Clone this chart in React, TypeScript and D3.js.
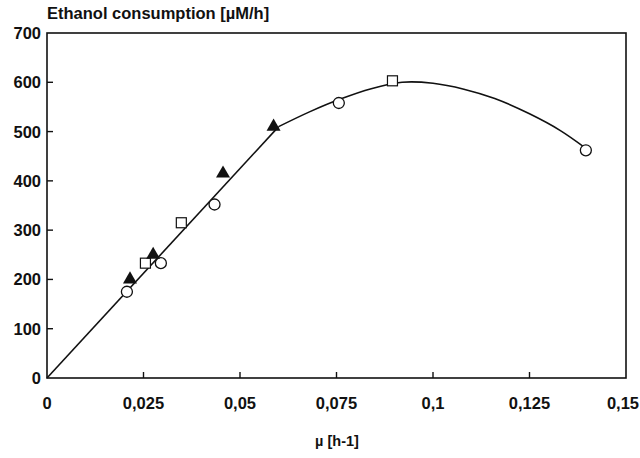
import React, { useEffect, useRef } from 'react';
import * as d3 from 'd3';

const triangles = [[0.0215, 200], [0.0275, 250], [0.0456, 415], [0.0587, 510]];
const circles = [[0.0207, 175], [0.0295, 233], [0.0434, 352], [0.0756, 558], [0.1396, 462]];
const squares = [[0.0255, 233], [0.0348, 315], [0.0895, 603]];

// fitted curve drawn through the data
const fitLine = [[0, 0], [0.06, 510]];
const fitCurve = [[0.06, 510], [0.068, 540], [0.076, 566], [0.084, 587], [0.092, 600], [0.1, 598],
    [0.108, 586], [0.116, 567], [0.125, 536], [0.133, 502], [0.1396, 466]];

const xTicks = [0, 0.025, 0.05, 0.075, 0.1, 0.125, 0.15];
const xTickLabels = ['0', '0,025', '0,05', '0,075', '0,1', '0,125', '0,15'];
const yTicks = [0, 100, 200, 300, 400, 500, 600, 700];

const App = () => {
    const ref = useRef(null);

    useEffect(() => {
        const svg = d3.select(ref.current);
        svg.selectAll('*').remove();

        const left = 47, right = 626, top = 33, bottom = 378;
        const font = '"Liberation Sans", Arial, sans-serif';

        const x = d3.scaleLinear().domain([0, 0.15]).range([left, right]);
        const y = d3.scaleLinear().domain([0, 700]).range([bottom, top]);

        // frame
        svg.append('rect')
            .attr('x', left).attr('y', top)
            .attr('width', right - left).attr('height', bottom - top)
            .attr('fill', 'none').attr('stroke', '#111').attr('stroke-width', 1.6);

        // x ticks (inward)
        svg.selectAll('.xt').data(xTicks.slice(1, -1)).enter().append('line')
            .attr('x1', d => x(d)).attr('x2', d => x(d))
            .attr('y1', bottom).attr('y2', bottom - 6)
            .attr('stroke', '#111').attr('stroke-width', 1.4);

        // last label would spill over the edge, so keep it inside
        svg.selectAll('.xl').data(xTicks).enter().append('text')
            .attr('x', (d, i) => i === xTicks.length - 1 ? 639 : x(d)).attr('y', 409)
            .attr('text-anchor', (d, i) => i === xTicks.length - 1 ? 'end' : 'middle')
            .attr('font-family', font).attr('font-weight', 'bold').attr('font-size', 16.5)
            .attr('fill', '#111')
            .text((d, i) => xTickLabels[i]);

        // y ticks (inward)
        svg.selectAll('.yt').data(yTicks.slice(1, -1)).enter().append('line')
            .attr('x1', left).attr('x2', left + 6)
            .attr('y1', d => y(d)).attr('y2', d => y(d))
            .attr('stroke', '#111').attr('stroke-width', 1.4);

        svg.selectAll('.yl').data(yTicks).enter().append('text')
            .attr('x', 41).attr('y', d => y(d))
            .attr('dy', '0.36em')
            .attr('text-anchor', 'end')
            .attr('font-family', font).attr('font-weight', 'bold').attr('font-size', 16.5)
            .attr('fill', '#111')
            .text(d => d);

        svg.append('text')
            .attr('x', 47).attr('y', 19)
            .attr('font-family', font).attr('font-weight', 'bold').attr('font-size', 16.5)
            .attr('fill', '#111')
            .text('Ethanol consumption [µM/h]');

        svg.append('text')
            .attr('x', 337).attr('y', 446)
            .attr('text-anchor', 'middle')
            .attr('font-family', font).attr('font-weight', 'bold').attr('font-size', 14.5)
            .attr('fill', '#111')
            .text('µ [h-1]');

        // fit
        const straight = d3.line().x(d => x(d[0])).y(d => y(d[1]));
        const smooth = d3.line().x(d => x(d[0])).y(d => y(d[1])).curve(d3.curveCatmullRom);
        svg.append('path').attr('d', straight(fitLine))
            .attr('fill', 'none').attr('stroke', '#111').attr('stroke-width', 1.6);
        svg.append('path').attr('d', smooth(fitCurve))
            .attr('fill', 'none').attr('stroke', '#111').attr('stroke-width', 1.6);

        // markers
        svg.selectAll('.sq').data(squares).enter().append('rect')
            .attr('x', d => x(d[0]) - 5).attr('y', d => y(d[1]) - 5)
            .attr('width', 10).attr('height', 10)
            .attr('fill', 'white').attr('stroke', '#111').attr('stroke-width', 1.2);

        svg.selectAll('.ci').data(circles).enter().append('circle')
            .attr('cx', d => x(d[0])).attr('cy', d => y(d[1])).attr('r', 5.5)
            .attr('fill', 'white').attr('stroke', '#111').attr('stroke-width', 1.3);

        const tri = d3.symbol().type(d3.symbolTriangle).size(85);
        svg.selectAll('.tr').data(triangles).enter().append('path')
            .attr('d', tri)
            .attr('transform', d => `translate(${x(d[0])},${y(d[1])})`)
            .attr('fill', '#111');
    }, []);

    return (
        <svg ref={ref} width={640} height={458}
            style={{ position: 'absolute', left: 0, top: 0, background: 'white' }} />
    );
};

export default App;
